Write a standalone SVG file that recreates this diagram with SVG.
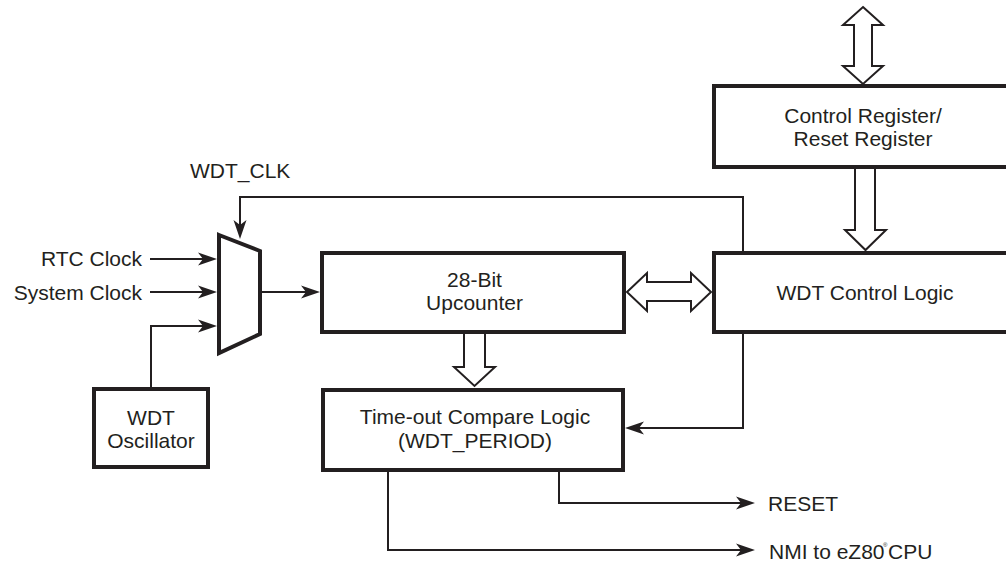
<svg xmlns="http://www.w3.org/2000/svg" width="1006" height="562" viewBox="0 0 1006 562">
<style>
.box{fill:#fff;stroke:#231f20;stroke-width:4}
.ln{fill:none;stroke:#231f20;stroke-width:2}
.bus{fill:#fff;stroke:#231f20;stroke-width:2;stroke-linejoin:miter}
text{font-family:"Liberation Sans",Arial,sans-serif;font-size:21px;fill:#231f20}
.c{text-anchor:middle}
.e{text-anchor:end}
</style>
<defs>
<marker id="ah" viewBox="-20 -8 21 16" refX="-3" refY="0" markerWidth="21" markerHeight="16" markerUnits="userSpaceOnUse" orient="auto">
<path d="M0,0 L-19,-6.5 L-14,0 L-19,6.5 Z" fill="#231f20"/>
</marker>
</defs>
<rect width="1006" height="562" fill="#fff"/>
<g id="connectors">
<path class="ln" d="M150,259 H214" marker-end="url(#ah)"/>
<path class="ln" d="M150,292 H214" marker-end="url(#ah)"/>
<path class="ln" d="M151,389 V326 H214" marker-end="url(#ah)"/>
<path class="ln" d="M260,292 H317" marker-end="url(#ah)"/>
<path class="ln" d="M743,253 V197 H240 V236" marker-end="url(#ah)"/>
<path class="ln" d="M743,332 V428 H628" marker-end="url(#ah)"/>
<path class="ln" d="M559,470 V503 H752" marker-end="url(#ah)"/>
<path class="ln" d="M388,470 V550 H752" marker-end="url(#ah)"/>
<path class="bus" d="M863,7 L883,25 L872,25 L872,66 L883,66 L863,84 L843,66 L854,66 L854,25 L843,25 Z"/>
<path class="bus" d="M855,167 L855,230 L845,230 L865.5,250 L886,230 L875,230 L875,167"/>
<path class="bus" d="M627,292 L647,273 L647,282 L691,282 L691,273 L711,292 L691,311 L691,301 L647,301 L647,311 Z"/>
<path class="bus" d="M464,332 L464,367 L454,367 L474.5,386 L495,367 L485,367 L485,332"/>
</g>
<g id="mux">
<path class="box" d="M219,235 L260,251 L260,334 L219,353 Z"/>
</g>
<g id="control-register">
<rect class="box" x="714" y="86" width="300" height="81"/>
<text class="c" x="863" y="123">Control Register/</text>
<text class="c" x="863" y="146">Reset Register</text>
</g>
<g id="wdt-control-logic">
<rect class="box" x="714" y="253" width="300" height="79"/>
<text class="c" x="865" y="300">WDT Control Logic</text>
</g>
<g id="upcounter">
<rect class="box" x="322" y="253" width="302" height="79"/>
<text class="c" x="474.5" y="287">28-Bit</text>
<text class="c" x="474.5" y="310">Upcounter</text>
</g>
<g id="timeout-compare">
<rect class="box" x="323" y="390" width="300" height="80"/>
<text class="c" x="475" y="424">Time-out Compare Logic</text>
<text class="c" x="475" y="448">(WDT_PERIOD)</text>
</g>
<g id="wdt-oscillator">
<rect class="box" x="94" y="389" width="114" height="78"/>
<text class="c" x="151" y="425">WDT</text>
<text class="c" x="151" y="448">Oscillator</text>
</g>
<g id="labels">
<text class="e" x="142" y="266">RTC Clock</text>
<text class="e" x="142" y="300">System Clock</text>
<text x="190" y="178">WDT_CLK</text>
<text x="768" y="511">RESET</text>
<text x="769" y="559">NMI to eZ80<tspan x="883" y="547" font-size="6">®</tspan><tspan x="888" y="559">CPU</tspan></text>
</g>
</svg>
